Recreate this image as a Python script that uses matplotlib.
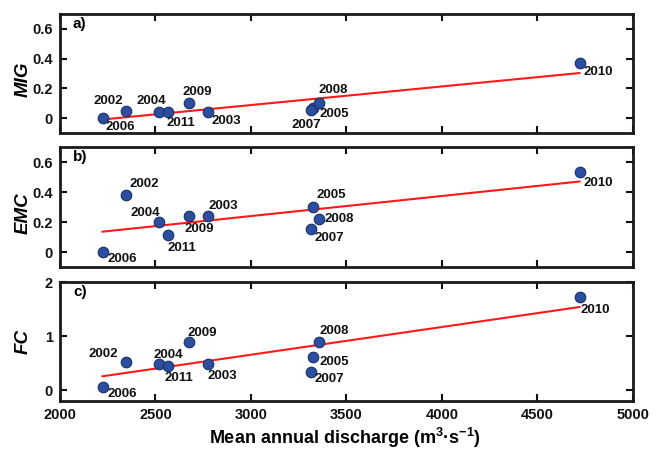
import numpy as np
import matplotlib
matplotlib.use('Agg')
import matplotlib.pyplot as plt

# dados
anos = ['2002', '2003', '2004', '2005', '2006', '2007', '2008', '2009', '2010', '2011']
vazao = [2346, 2777, 2519, 3325, 2223, 3313, 3358, 2673, 4720, 2567]
mig = [0.047, 0.040, 0.040, 0.065, 0.0, 0.054, 0.100, 0.103, 0.368, 0.040]
emc = [0.378, 0.240, 0.200, 0.298, 0.0, 0.151, 0.222, 0.240, 0.531, 0.113]
fc = [0.53, 0.49, 0.475, 0.62, 0.05, 0.34, 0.89, 0.90, 1.73, 0.44]

# deslocamento dos rótulos (pixels)
off_a = [(-18, 10), (18, -9), (-8, 11), (21, -6), (18, -9), (-4, -15), (14, 13), (9, 11), (19, -9), (13, -11)]
off_b = [(18, 11), (15, 10), (-14, 9), (18, 12), (20, -7), (19, -9), (20, 0), (11, -13), (19, -11), (14, -13)]
off_c = [(-23, 8), (14, -12), (9, 9), (21, -5), (20, -7), (19, -7), (15, 11), (14, 9), (16, -13), (11, -12)]

plt.rcParams['font.family'] = ['Liberation Sans', 'DejaVu Sans']
plt.rcParams['font.weight'] = 'bold'
plt.rcParams['mathtext.fontset'] = 'custom'
plt.rcParams['mathtext.rm'] = 'Liberation Sans:bold'
plt.rcParams['mathtext.bf'] = 'Liberation Sans:bold'

fig = plt.figure(figsize=(6.62, 4.49), dpi=100)
rects = [[0.0906, 0.7038, 0.8656, 0.2650],
         [0.0906, 0.4053, 0.8656, 0.2673],
         [0.0906, 0.1069, 0.8656, 0.2650]]

painel = [('a)', 'MIG', mig, off_a, (-0.1, 0.7), [0, 0.2, 0.4, 0.6], ['0', '0.2', '0.4', '0.6'], 0.45),
          ('b)', 'EMC', emc, off_b, (-0.1, 0.7), [0, 0.2, 0.4, 0.6], ['0', '0.2', '0.4', '0.6'], 0.45),
          ('c)', 'FC', fc, off_c, (-0.2, 2.0), [0, 1, 2], ['0', '1', '2'], 0.5)]

x = np.array(vazao)
for i, (letra, nome, y, offs, ylim, yt, ytl, ypos) in enumerate(painel):
    ax = fig.add_axes(rects[i])
    y = np.array(y)

    # reta de regressão
    p = np.polyfit(x, y, 1)
    xl = np.array([x.min(), x.max()])
    ax.plot(xl, np.polyval(p, xl), color='#ff1a1a', lw=1.5, zorder=2)

    ax.scatter(x, y, s=58, color='#2b4f9e', edgecolor='#17306a', lw=0.8, zorder=3)
    for ano, xi, yi, o in zip(anos, x, y, offs):
        ax.annotate(ano, (xi, yi), xytext=o, textcoords='offset pixels',
                    ha='center', va='center', fontsize=9.5, fontweight='bold', color='#111111')

    ax.text(13 / 573, 1 - 10 / 119, letra, transform=ax.transAxes, ha='left', va='center',
            fontsize=11, fontweight='bold')

    ax.set_xlim(2000, 5000)
    ax.set_ylim(*ylim)
    ax.set_xticks(np.arange(2000, 5001, 500))
    ax.set_yticks(yt)
    ax.set_yticklabels(ytl)
    ax.tick_params(direction='in', length=5, width=1.5, top=True, right=True,
                   labelsize=10.5, pad=5, colors='#111111')
    for lab in ax.get_xticklabels() + ax.get_yticklabels():
        lab.set_fontweight('bold')
    if i < 2:
        ax.tick_params(labelbottom=False)
    for s in ax.spines.values():
        s.set_linewidth(2)
        s.set_color('#1a1a1a')

    ax.set_ylabel(nome, fontsize=13.5, fontweight='bold', fontstyle='italic')
    ax.yaxis.set_label_coords(-0.05, ypos)

fig.text(345 / 662, 1 - 444 / 449, 'Mean annual discharge (m$^{\\mathbf{3}}$·s$^{\\mathbf{-1}}$)',
         ha='center', va='baseline', fontsize=13, fontweight='bold')

fig.savefig('out.png', dpi=100)
